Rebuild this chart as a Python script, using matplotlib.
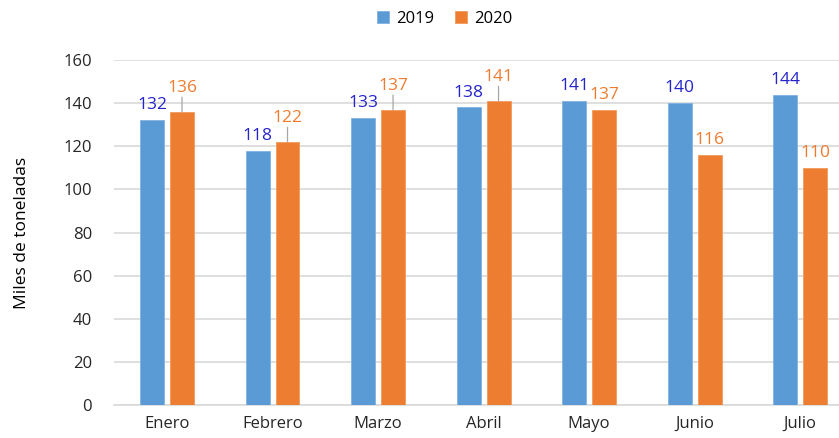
import matplotlib
matplotlib.use("Agg")
import matplotlib.pyplot as plt
import numpy as np

months = ["Enero", "Febrero", "Marzo", "Abril", "Mayo", "Junio", "Julio"]
v2019 = [132, 118, 133, 138, 141, 140, 144]
v2020 = [136, 122, 137, 141, 137, 116, 110]
series_names = ["2019", "2020"]
yticks = [0, 20, 40, 60, 80, 100, 120, 140, 160]
# which 2020 labels are pushed up with a leader line
leader2020 = [True, True, True, True, False, False, False]

plt.rcParams['font.family'] = ['Open Sans', 'DejaVu Sans']

blue = "#5B9BD5"
orange = "#ED7D31"
blue_txt = "#2424CC"
orange_txt = "#F07B2E"

fig = plt.figure(figsize=(8.39, 4.38), dpi=100)
ax = fig.add_axes([0.1362, 0.0753, 0.8803, 0.7877])

x = np.arange(len(months))
w = 0.227
off = 0.142
b1 = ax.bar(x - off, v2019, w, color=blue, edgecolor="#7FB2E0", linewidth=0.6, label=series_names[0], zorder=3)
b2 = ax.bar(x + off, v2020, w, color=orange, edgecolor="#F29A5C", linewidth=0.6, label=series_names[1], zorder=3)

fs_lab = 12.5
for xi, v in zip(x, v2019):
    ax.annotate(str(v), (xi - off, v), xytext=(0, 5), textcoords="offset points",
                ha="center", va="bottom", color=blue_txt, fontsize=fs_lab)
for xi, v, lead in zip(x, v2020, leader2020):
    if lead:
        ax.annotate(str(v), (xi + off, v), xytext=(0, 11.5), textcoords="offset points",
                    ha="center", va="bottom", color=orange_txt, fontsize=fs_lab)
        ax.annotate("", (xi + off, v), xytext=(0, 10.5), textcoords="offset points",
                    arrowprops=dict(arrowstyle="-", color="#A6A6A6", lw=0.9, shrinkA=0, shrinkB=0))
    else:
        ax.annotate(str(v), (xi + off, v), xytext=(0, 5), textcoords="offset points",
                    ha="center", va="bottom", color=orange_txt, fontsize=fs_lab)

ax.set_xlim(-0.5, len(months) - 0.5)
ax.set_ylim(0, 160)
ax.set_yticks(yticks)
ax.set_xticks(x)
ax.set_xticklabels(months)
ax.tick_params(axis="both", length=0, labelsize=12, colors="#262626")
ax.tick_params(axis="y", pad=16)
ax.tick_params(axis="x", pad=8)
ax.yaxis.grid(True, color="#D9D9D9", linewidth=1.2, zorder=0)
ax.set_axisbelow(True)
for s in ["top", "right", "left"]:
    ax.spines[s].set_visible(False)
ax.spines["bottom"].set_color("#D9D9D9")
ax.spines["bottom"].set_linewidth(1.2)
ax.set_ylabel("Miles de toneladas", fontsize=12.5, color="#000000", labelpad=24)

fig.legend(handles=[b1, b2], labels=series_names, loc="center", bbox_to_anchor=(0.53, 0.957),
           ncol=2, frameon=False, fontsize=12, handlelength=0.7, handleheight=0.7,
           handletextpad=0.4, columnspacing=1.3)

fig.savefig("out.png", dpi=100)
